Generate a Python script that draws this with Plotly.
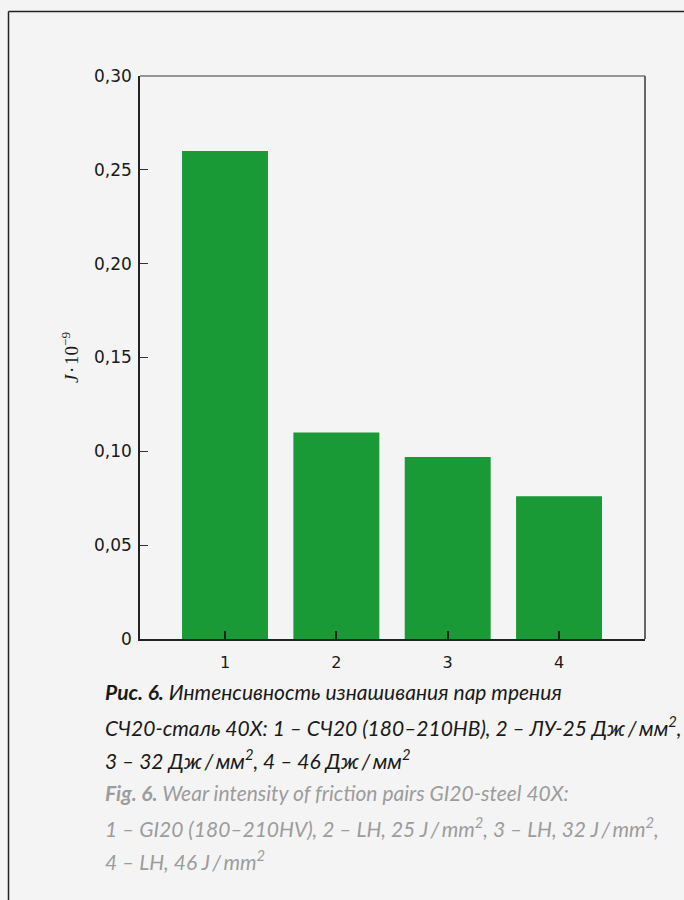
import plotly.graph_objects as go

# Wear intensity per friction pair
categories = [1, 2, 3, 4]
category_labels = ["1", "2", "3", "4"]
wear_intensity = [0.260, 0.110, 0.097, 0.076]

y_tick_values = [0, 0.05, 0.10, 0.15, 0.20, 0.25, 0.30]
y_tick_labels = ["0", "0,05", "0,10", "0,15", "0,20", "0,25", "0,30"]

caption_ru = [
    "<b>Рис. 6.</b> Интенсивность изнашивания пар трения",
    "СЧ20-сталь 40Х: 1 – СЧ20 (180–210НВ), 2 – ЛУ-25 Дж\u2009/\u2009мм<sup>2</sup>,",
    "3 – 32 Дж\u2009/\u2009мм<sup>2</sup>, 4 – 46 Дж\u2009/\u2009мм<sup>2</sup>",
]
caption_en = [
    "<b>Fig. 6.</b> Wear intensity of friction pairs GI20-steel 40X:",
    "1 – GI20 (180–210HV), 2 – LH, 25 J\u2009/\u2009mm<sup>2</sup>, 3 – LH, 32 J\u2009/\u2009mm<sup>2</sup>,",
    "4 – LH, 46 J\u2009/\u2009mm<sup>2</sup>",
]

W, H = 684, 900
L, R, T, B = 140, 645, 76, 639  # plot area in pixels
BG = "#f4f4f4"
GREEN = "#1a9937"


def px(x):
    return (x - L) / (R - L)


def py(y):
    return (B - y) / (B - T)


fig = go.Figure()
fig.add_trace(go.Bar(
    x=categories, y=wear_intensity, width=0.772,
    marker=dict(color=GREEN, line=dict(width=0)),
    hoverinfo="skip",
))

fig.update_layout(
    width=W, height=H,
    margin=dict(l=L, r=W - R, t=T, b=H - B),
    paper_bgcolor=BG, plot_bgcolor=BG,
    showlegend=False,
    font=dict(family="DejaVu Sans", size=16, color="#1a1a1a"),
)

fig.update_xaxes(
    range=[0.2365, 4.772], tickvals=categories, ticktext=category_labels,
    ticks="inside", ticklen=8, tickwidth=1.5, tickcolor="#222",
    showline=True, linecolor="#222", linewidth=1.5, showgrid=False,
    zeroline=False, tickfont=dict(size=16), ticklabelstandoff=8,
)
fig.update_yaxes(
    range=[0, 0.30], tickvals=y_tick_values, ticktext=y_tick_labels,
    ticks="inside", ticklen=8, tickwidth=1, tickcolor="#333",
    showline=True, linecolor="#222", linewidth=1.5, showgrid=False,
    zeroline=False, tickfont=dict(size=17), ticklabelstandoff=3,
    title=dict(text="<i>J</i>\u200a·\u200a10<sup>−9</sup>",
               font=dict(family="Liberation Serif", size=19), standoff=10),
)

# top and right borders of the plot frame
fig.add_shape(type="line", xref="paper", yref="paper", x0=0, x1=1, y0=1, y1=1,
              line=dict(color="#777", width=1.5))
fig.add_shape(type="line", xref="paper", yref="paper", x0=1, x1=1, y0=0, y1=1,
              line=dict(color="#666", width=2))

# page frame (left and top rules)
fig.add_shape(type="line", xref="paper", yref="paper",
              x0=px(8.5), x1=px(8.5), y0=py(11.5), y1=py(H + 5),
              line=dict(color="#222", width=1.5))
fig.add_shape(type="line", xref="paper", yref="paper",
              x0=px(8.5), x1=px(W + 5), y0=py(11.5), y1=py(11.5),
              line=dict(color="#222", width=1.5))

# caption lines
line_y = [692, 726, 759, 793, 827, 860]
for i, text in enumerate(caption_ru + caption_en):
    color = "#1a1a1a" if i < len(caption_ru) else "#9c9c9c"
    fig.add_annotation(
        xref="paper", yref="paper", x=px(103), y=py(line_y[i]),
        xanchor="left", yanchor="middle", showarrow=False,
        text="<i>" + text + "</i>", align="left",
        font=dict(family="Lato", size=21, color=color),
    )

fig.write_html("out.html")
